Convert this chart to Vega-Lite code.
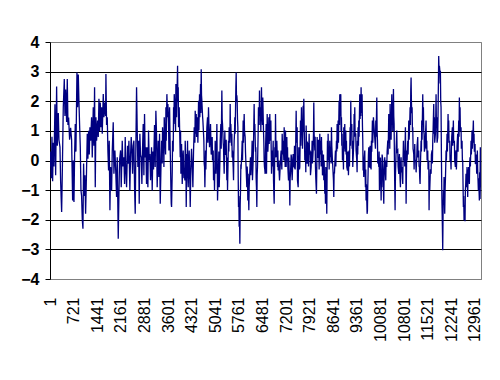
{
  "$schema": "https://vega.github.io/schema/vega-lite/v6.json",
  "width": 431,
  "height": 237,
  "autosize": "none",
  "padding": {"left": 50, "top": 42, "right": 19, "bottom": 101},
  "background": "white",
  "config": {
    "view": {"stroke": "#808080", "strokeWidth": 1},
    "font": "Liberation Sans"
  },
  "data": {"values": [
{"i":1,"v":-0.2},{"i":20,"v":0.3},{"i":40,"v":-0.6},{"i":61,"v":0.8},{"i":81,"v":-0.7},{"i":102,"v":0.6},{"i":122,"v":-0.2},{"i":152,"v":1.9},{"i":173,"v":-0.5},{"i":203,"v":2.5},{"i":224,"v":0.5},{"i":254,"v":1.6},{"i":274,"v":0.7},{"i":305,"v":0.45},{"i":325,"v":-0.7},{"i":356,"v":-1.74},{"i":376,"v":-0.45},{"i":406,"v":1.8},{"i":437,"v":2.75},{"i":457,"v":1.5},{"i":478,"v":2.4},{"i":508,"v":1.3},{"i":528,"v":2.75},{"i":549,"v":1.2},{"i":569,"v":1.45},{"i":599,"v":0.7},{"i":630,"v":1.1},{"i":660,"v":0.7},{"i":691,"v":-1.35},{"i":711,"v":0.0},{"i":732,"v":-1.4},{"i":752,"v":0.2},{"i":772,"v":1.23},{"i":792,"v":0.3},{"i":823,"v":2.97},{"i":843,"v":1.8},{"i":864,"v":2.9},{"i":884,"v":2.0},{"i":904,"v":1.2},{"i":925,"v":0.45},{"i":945,"v":-1.0},{"i":965,"v":-1.2},{"i":986,"v":-2.0},{"i":1006,"v":-2.3},{"i":1026,"v":-0.1},{"i":1046,"v":-1.2},{"i":1067,"v":-0.5},{"i":1087,"v":-1.8},{"i":1107,"v":-0.8},{"i":1138,"v":0.9},{"i":1158,"v":0.06},{"i":1179,"v":1.0},{"i":1199,"v":0.2},{"i":1219,"v":1.12},{"i":1240,"v":0.67},{"i":1270,"v":1.46},{"i":1290,"v":0.1},{"i":1321,"v":1.8},{"i":1341,"v":0.5},{"i":1361,"v":2.47},{"i":1382,"v":-0.9},{"i":1402,"v":1.46},{"i":1422,"v":0.67},{"i":1453,"v":1.35},{"i":1473,"v":0.79},{"i":1494,"v":2.08},{"i":1514,"v":1.0},{"i":1534,"v":1.96},{"i":1554,"v":1.12},{"i":1575,"v":1.8},{"i":1595,"v":0.9},{"i":1626,"v":2.24},{"i":1646,"v":1.46},{"i":1676,"v":1.96},{"i":1697,"v":1.5},{"i":1707,"v":2.92},{"i":1727,"v":1.2},{"i":1748,"v":1.46},{"i":1768,"v":0.3},{"i":1788,"v":-0.34},{"i":1808,"v":0.67},{"i":1829,"v":-1.68},{"i":1849,"v":-0.22},{"i":1880,"v":-1.01},{"i":1900,"v":0.3},{"i":1930,"v":1.29},{"i":1951,"v":-0.45},{"i":1981,"v":0.34},{"i":2002,"v":-0.22},{"i":2032,"v":-1.23},{"i":2052,"v":0.11},{"i":2083,"v":-2.64},{"i":2103,"v":-1.2},{"i":2123,"v":0.0},{"i":2154,"v":0.34},{"i":2174,"v":-0.9},{"i":2205,"v":0.67},{"i":2225,"v":-0.2},{"i":2255,"v":0.11},{"i":2276,"v":-0.79},{"i":2296,"v":0.79},{"i":2316,"v":-0.3},{"i":2337,"v":-0.9},{"i":2367,"v":0.5},{"i":2388,"v":-0.11},{"i":2408,"v":0.67},{"i":2438,"v":-1.01},{"i":2459,"v":0.2},{"i":2479,"v":0.79},{"i":2499,"v":0.34},{"i":2520,"v":-0.45},{"i":2540,"v":0.5},{"i":2560,"v":0.67},{"i":2581,"v":-0.9},{"i":2601,"v":-1.8},{"i":2621,"v":0.5},{"i":2642,"v":2.47},{"i":2662,"v":1.0},{"i":2682,"v":-0.22},{"i":2703,"v":0.67},{"i":2723,"v":-1.46},{"i":2743,"v":0.9},{"i":2763,"v":0.2},{"i":2784,"v":0.1},{"i":2804,"v":-0.79},{"i":2824,"v":0.4},{"i":2845,"v":1.23},{"i":2865,"v":-0.5},{"i":2885,"v":1.57},{"i":2906,"v":0.1},{"i":2926,"v":0.45},{"i":2946,"v":-0.79},{"i":2967,"v":0.45},{"i":2987,"v":-0.9},{"i":3007,"v":1.01},{"i":3028,"v":0.0},{"i":3048,"v":0.22},{"i":3068,"v":-0.67},{"i":3099,"v":0.45},{"i":3119,"v":-1.01},{"i":3139,"v":0.3},{"i":3160,"v":-0.3},{"i":3190,"v":1.2},{"i":3210,"v":-0.22},{"i":3231,"v":1.68},{"i":3251,"v":0.9},{"i":3271,"v":-0.9},{"i":3302,"v":0.67},{"i":3322,"v":-0.56},{"i":3343,"v":0.9},
{"i":3364,"v":-1.46},{"i":3385,"v":-0.3},{"i":3405,"v":0.67},{"i":3425,"v":-0.1},{"i":3435,"v":1.12},{"i":3466,"v":0.45},{"i":3476,"v":-0.22},{"i":3486,"v":1.46},{"i":3507,"v":0.79},{"i":3527,"v":0.2},{"i":3537,"v":1.8},{"i":3547,"v":0.67},{"i":3567,"v":2.24},{"i":3588,"v":1.46},{"i":3598,"v":1.91},{"i":3618,"v":1.23},{"i":3628,"v":0.34},{"i":3649,"v":1.8},{"i":3669,"v":0.34},{"i":3679,"v":-0.22},{"i":3689,"v":-0.9},{"i":3700,"v":-1.46},{"i":3710,"v":-1.57},{"i":3730,"v":-0.4},{"i":3740,"v":0.67},{"i":3760,"v":0.3},{"i":3771,"v":1.8},{"i":3781,"v":1.23},{"i":3791,"v":2.24},{"i":3811,"v":1.8},{"i":3832,"v":1.0},{"i":3842,"v":2.58},{"i":3862,"v":1.46},{"i":3872,"v":2.02},{"i":3893,"v":3.2},{"i":3903,"v":2.0},{"i":3913,"v":2.47},{"i":3923,"v":1.12},{"i":3943,"v":1.8},{"i":3954,"v":1.12},{"i":3974,"v":0.11},{"i":3984,"v":1.01},{"i":3994,"v":-0.45},{"i":4015,"v":0.56},{"i":4035,"v":-0.79},{"i":4055,"v":0.1},{"i":4065,"v":0.34},{"i":4086,"v":-0.6},{"i":4096,"v":-0.34},{"i":4116,"v":-0.67},{"i":4126,"v":0.67},{"i":4147,"v":-0.2},{"i":4157,"v":-1.57},{"i":4177,"v":0.22},{"i":4187,"v":-0.3},{"i":4197,"v":0.67},{"i":4208,"v":-0.56},{"i":4218,"v":-0.9},{"i":4238,"v":0.1},{"i":4248,"v":0.34},{"i":4269,"v":-0.9},{"i":4279,"v":-1.57},{"i":4299,"v":-0.22},{"i":4319,"v":0.4},{"i":4329,"v":0.11},{"i":4350,"v":-0.5},{"i":4360,"v":-0.9},{"i":4380,"v":0.3},{"i":4401,"v":1.12},{"i":4421,"v":0.6},{"i":4431,"v":1.68},{"i":4451,"v":0.9},{"i":4462,"v":1.57},{"i":4472,"v":0.79},{"i":4482,"v":1.23},{"i":4502,"v":1.46},{"i":4512,"v":0.6},{"i":4533,"v":2.02},{"i":4543,"v":1.01},{"i":4563,"v":2.24},{"i":4573,"v":1.46},{"i":4594,"v":2.58},{"i":4604,"v":1.6},{"i":4614,"v":3.08},{"i":4624,"v":2.2},{"i":4634,"v":2.02},{"i":4655,"v":1.5},{"i":4665,"v":1.35},{"i":4685,"v":0.9},{"i":4695,"v":0.67},{"i":4705,"v":-0.1},{"i":4716,"v":-0.22},{"i":4726,"v":-0.9},{"i":4746,"v":0.34},{"i":4756,"v":-0.3},{"i":4776,"v":0.67},{"i":4787,"v":1.12},{"i":4807,"v":1.46},{"i":4817,"v":0.6},{"i":4837,"v":1.8},{"i":4858,"v":0.8},{"i":4868,"v":0.45},{"i":4888,"v":0.9},{"i":4898,"v":1.23},{"i":4919,"v":0.2},{"i":4929,"v":0.34},{"i":4949,"v":0.79},{"i":4959,"v":0.0},{"i":4980,"v":0.34},{"i":4990,"v":-0.67},{"i":5010,"v":-0.34},{"i":5020,"v":-1.01},{"i":5041,"v":0.67},{"i":5051,"v":0.0},{"i":5061,"v":-0.45},{"i":5081,"v":0.4},{"i":5092,"v":1.23},{"i":5102,"v":0.1},{"i":5112,"v":-1.35},{"i":5132,"v":-0.5},{"i":5142,"v":-0.22},{"i":5152,"v":0.3},{"i":5163,"v":-0.9},{"i":5183,"v":-0.1},{"i":5193,"v":0.67},{"i":5213,"v":1.23},{"i":5224,"v":0.4},{"i":5244,"v":2.36},{"i":5254,"v":1.4},{"i":5264,"v":1.23},{"i":5285,"v":0.6},{"i":5295,"v":0.45},{"i":5305,"v":-0.1},{"i":5315,"v":-0.45},{"i":5335,"v":1.01},{"i":5346,"v":0.2},{"i":5366,"v":0.22},{"i":5376,"v":0.7},{"i":5396,"v":-0.67},{"i":5407,"v":0.1},{"i":5417,"v":-1.01},{"i":5437,"v":0.2},{"i":5447,"v":0.67},{"i":5457,"v":0.3},{"i":5467,"v":1.12},{"i":5488,"v":0.6},{"i":5498,"v":1.91},{"i":5508,"v":0.9},{"i":5518,"v":1.23},{"i":5539,"v":0.5},{"i":5549,"v":0.9},{"i":5559,"v":0.1},{"i":5569,"v":0.34},{"i":5589,"v":-0.22},{"i":5600,"v":-0.67},{"i":5610,"v":0.2},{"i":5620,"v":0.67},{"i":5630,"v":0.9},{"i":5640,"v":1.46},{"i":5650,"v":0.9},{"i":5671,"v":2.47},{"i":5681,"v":2.97},{"i":5691,"v":2.0},{"i":5701,"v":2.2},{"i":5711,"v":2.02},{"i":5721,"v":1.4},{"i":5732,"v":1.12},{"i":5742,"v":-0.5},{"i":5752,"v":-1.57},{"i":5762,"v":-1.2},{"i":5772,"v":-2.24},{"i":5782,"v":-1.8},{"i":5793,"v":-2.81},{"i":5803,"v":-1.5},{"i":5813,"v":-1.01},{"i":5823,"v":-0.2},{"i":5833,"v":-0.22},{"i":5854,"v":0.3},{"i":5864,"v":0.67},{"i":5874,"v":0.0},{"i":5894,"v":1.35},{"i":5904,"v":0.6},{"i":5925,"v":1.57},{"i":5935,"v":1.0},{"i":5955,"v":0.79},{"i":5965,"v":0.3},{"i":5975,"v":0.0},{"i":5986,"v":-0.3},{"i":6006,"v":-0.9},{"i":6016,"v":-0.2},{"i":6026,"v":-0.45},{"i":6036,"v":-1.35},{"i":6046,"v":-0.45},{"i":6057,"v":-1.2},{"i":6067,"v":-1.68},{"i":6077,"v":-0.9},{"i":6087,"v":-0.67},{"i":6107,"v":-0.1},{"i":6117,"v":0.11},{"i":6128,"v":-0.5},{"i":6138,"v":-0.22},{"i":6158,"v":0.2},{"i":6168,"v":0.67},{"i":6178,"v":-0.67},{"i":6199,"v":0.0},{"i":6209,"v":0.5},{"i":6229,"v":1.91},{"i":6239,"v":1.0},{"i":6250,"v":1.23},{"i":6270,"v":0.3},{"i":6280,"v":0.45},{"i":6290,"v":-0.6},{"i":6300,"v":-0.9},{"i":6311,"v":-1.57},{"i":6321,"v":-0.5},{"i":6331,"v":-0.22},{"i":6351,"v":0.9},{"i":6361,"v":1.8},{"i":6382,"v":1.2},{"i":6392,"v":2.36},{"i":6402,"v":1.5},{"i":6422,"v":1.8},{"i":6433,"v":1.0},{"i":6453,"v":2.47},{"i":6463,"v":1.6},{"i":6473,"v":1.46},{"i":6483,"v":1.2},{"i":6493,"v":2.13},{"i":6514,"v":1.0},{"i":6524,"v":0.67},{"i":6534,"v":0.0},{"i":6544,"v":-0.22},{"i":6554,"v":-0.3},{"i":6565,"v":-0.45},{"i":6575,"v":0.34},
{"i":6596,"v":1.23},{"i":6606,"v":-0.45},{"i":6627,"v":1.57},{"i":6647,"v":0.3},{"i":6657,"v":0.56},{"i":6678,"v":1.46},{"i":6688,"v":0.56},{"i":6708,"v":1.57},{"i":6718,"v":0.67},{"i":6739,"v":1.35},{"i":6749,"v":0.34},{"i":6759,"v":-0.45},{"i":6779,"v":0.34},{"i":6789,"v":-0.2},{"i":6810,"v":0.67},{"i":6820,"v":-0.67},{"i":6830,"v":-1.1},{"i":6840,"v":-1.46},{"i":6850,"v":-0.5},{"i":6860,"v":0.45},{"i":6871,"v":0.1},{"i":6881,"v":1.57},{"i":6891,"v":0.6},{"i":6911,"v":0.11},{"i":6921,"v":0.67},{"i":6942,"v":-0.22},{"i":6952,"v":0.34},{"i":6962,"v":-0.34},{"i":6982,"v":0.0},{"i":6993,"v":-0.45},{"i":7003,"v":-0.67},{"i":7023,"v":-0.22},{"i":7043,"v":0.2},{"i":7053,"v":0.34},{"i":7074,"v":-0.3},{"i":7084,"v":0.9},{"i":7104,"v":0.2},{"i":7114,"v":0.67},{"i":7135,"v":0.0},{"i":7145,"v":1.12},{"i":7155,"v":0.4},{"i":7165,"v":0.45},{"i":7175,"v":-0.22},{"i":7186,"v":1.01},{"i":7196,"v":0.1},{"i":7206,"v":-0.22},{"i":7216,"v":0.3},{"i":7226,"v":0.79},{"i":7236,"v":0.0},{"i":7247,"v":0.45},{"i":7257,"v":-0.22},{"i":7277,"v":-0.67},{"i":7287,"v":0.1},{"i":7308,"v":-0.79},{"i":7318,"v":-1.52},{"i":7328,"v":-0.6},{"i":7338,"v":-0.45},{"i":7358,"v":0.2},{"i":7368,"v":0.11},{"i":7379,"v":-0.3},{"i":7389,"v":-0.67},{"i":7409,"v":0.0},{"i":7419,"v":0.22},{"i":7440,"v":-0.2},{"i":7450,"v":-0.22},{"i":7460,"v":0.5},{"i":7470,"v":0.34},{"i":7480,"v":-0.3},{"i":7490,"v":0.0},{"i":7501,"v":0.9},{"i":7511,"v":1.68},{"i":7521,"v":0.6},{"i":7541,"v":1.12},{"i":7551,"v":-0.67},{"i":7572,"v":-0.9},{"i":7582,"v":-0.2},{"i":7592,"v":0.45},{"i":7612,"v":-0.3},{"i":7622,"v":-0.22},{"i":7633,"v":0.6},{"i":7643,"v":1.35},{"i":7653,"v":0.5},{"i":7673,"v":1.8},{"i":7683,"v":0.9},{"i":7694,"v":1.23},{"i":7704,"v":0.4},{"i":7724,"v":1.85},{"i":7734,"v":1.0},{"i":7744,"v":2.08},{"i":7755,"v":1.2},{"i":7765,"v":0.67},{"i":7775,"v":0.0},{"i":7795,"v":0.22},{"i":7805,"v":-0.4},{"i":7816,"v":1.18},{"i":7826,"v":0.4},{"i":7846,"v":-0.11},{"i":7856,"v":0.6},{"i":7877,"v":0.56},{"i":7887,"v":-0.2},{"i":7907,"v":0.9},{"i":7917,"v":0.2},{"i":7937,"v":0.34},{"i":7948,"v":-0.5},{"i":7968,"v":-0.22},{"i":7978,"v":0.3},{"i":7988,"v":0.22},{"i":7998,"v":0.67},{"i":8009,"v":-0.1},{"i":8029,"v":0.34},{"i":8039,"v":0.9},{"i":8049,"v":1.96},{"i":8059,"v":0.9},{"i":8080,"v":0.34},{"i":8090,"v":0.8},{"i":8100,"v":-0.22},{"i":8110,"v":-0.6},{"i":8130,"v":-1.12},{"i":8141,"v":-0.2},{"i":8151,"v":0.79},{"i":8161,"v":0.1},{"i":8181,"v":0.11},{"i":8191,"v":0.7},{"i":8202,"v":0.34},{"i":8212,"v":-0.3},{"i":8232,"v":0.9},{"i":8242,"v":0.2},{"i":8263,"v":0.67},{"i":8273,"v":-0.2},{"i":8283,"v":0.79},{"i":8293,"v":0.1},{"i":8303,"v":0.34},{"i":8313,"v":-0.5},{"i":8334,"v":-0.45},{"i":8344,"v":0.2},{"i":8354,"v":-0.67},{"i":8364,"v":0.0},{"i":8385,"v":-1.12},{"i":8395,"v":-0.6},{"i":8405,"v":-1.46},{"i":8415,"v":-0.22},{"i":8425,"v":-0.6},{"i":8435,"v":-1.0},{"i":8445,"v":-1.8},{"i":8456,"v":-0.3},{"i":8466,"v":0.67},{"i":8476,"v":0.0},{"i":8486,"v":0.9},{"i":8496,"v":0.2},{"i":8506,"v":0.45},{"i":8517,"v":-0.3},{"i":8537,"v":0.67},{"i":8547,"v":0.11},{"i":8567,"v":0.45},{"i":8577,"v":-0.1},{"i":8588,"v":1.12},{"i":8598,"v":0.5},{"i":8618,"v":0.0},{"i":8628,"v":-0.2},{"i":8649,"v":-0.67},{"i":8659,"v":-1.23},{"i":8669,"v":-0.4},{"i":8679,"v":-0.45},{"i":8699,"v":0.1},{"i":8710,"v":0.34},{"i":8720,"v":-0.2},{"i":8740,"v":0.67},{"i":8750,"v":0.3},{"i":8760,"v":1.23},{"i":8771,"v":0.4},{"i":8791,"v":1.35},{"i":8801,"v":0.6},{"i":8821,"v":2.02},{"i":8832,"v":1.2},{"i":8842,"v":2.24},{"i":8852,"v":1.5},{"i":8872,"v":2.24},{"i":8882,"v":1.0},{"i":8893,"v":1.46},{"i":8903,"v":0.5},{"i":8913,"v":0.9},{"i":8923,"v":0.0},{"i":8943,"v":0.34},{"i":8954,"v":-0.3},{"i":8964,"v":1.12},{"i":8974,"v":0.4},{"i":8994,"v":1.23},{"i":9004,"v":0.3},{"i":9025,"v":1.01},{"i":9035,"v":0.2},{"i":9045,"v":0.67},{"i":9055,"v":-0.22},{"i":9076,"v":-0.34},{"i":9086,"v":0.3},{"i":9096,"v":0.0},{"i":9106,"v":-0.5},{"i":9126,"v":0.34},{"i":9137,"v":-0.2},{"i":9157,"v":1.12},{"i":9167,"v":0.5},{"i":9177,"v":2.02},{"i":9187,"v":1.0},{"i":9208,"v":1.23},{"i":9218,"v":0.4},{"i":9228,"v":0.67},{"i":9238,"v":-0.22},{"i":9259,"v":0.34},{"i":9269,"v":0.7},{"i":9279,"v":1.57},{"i":9289,"v":0.8},{"i":9299,"v":1.8},{"i":9309,"v":0.9},{"i":9329,"v":0.9},{"i":9339,"v":0.34},{"i":9360,"v":0.0},{"i":9370,"v":-0.4},{"i":9380,"v":0.67},{"i":9390,"v":0.2},{"i":9400,"v":1.12},{"i":9411,"v":0.5},{"i":9421,"v":1.35},{"i":9431,"v":0.8},{"i":9451,"v":2.24},{"i":9461,"v":1.4},{"i":9471,"v":2.13},{"i":9482,"v":1.5},{"i":9492,"v":2.47},{"i":9502,"v":1.6},{"i":9522,"v":2.24},{"i":9533,"v":1.2},{"i":9543,"v":0.67},{"i":9553,"v":-0.34},{"i":9563,"v":0.1},{"i":9573,"v":-0.56},{"i":9583,"v":0.0},{"i":9604,"v":0.34},{"i":9614,"v":-0.4},{"i":9624,"v":-0.9},{"i":9634,"v":-0.3},{"i":9644,"v":-1.35},{"i":9654,"v":-0.8},{"i":9675,"v":-1.8},{"i":9685,"v":-1.7},{"i":9695,"v":-0.9},{"i":9705,"v":-0.45},{"i":9716,"v":0.2},{"i":9726,"v":0.45},{"i":9736,"v":-0.2},{"i":9756,"v":-0.22},{"i":9766,"v":0.5},{"i":9787,"v":0.22},{"i":9797,"v":-0.3},{"i":9807,"v":0.67},{"i":9817,"v":0.3},{"i":9837,"v":1.35},{"i":9848,"v":0.6},{"i":9868,"v":1.46},
{"i":9930,"v":0.4},{"i":9940,"v":1.35},{"i":9950,"v":0.8},{"i":9971,"v":2.13},{"i":9981,"v":1.0},{"i":9991,"v":0.67},{"i":10001,"v":-0.1},{"i":10011,"v":0.11},{"i":10021,"v":0.0},{"i":10032,"v":-0.22},{"i":10042,"v":0.3},{"i":10052,"v":-1.01},{"i":10062,"v":-0.3},{"i":10072,"v":-0.67},{"i":10082,"v":0.1},{"i":10103,"v":-1.35},{"i":10113,"v":-0.5},{"i":10123,"v":-0.9},{"i":10133,"v":0.2},{"i":10153,"v":0.0},{"i":10164,"v":-0.6},{"i":10184,"v":-1.46},{"i":10194,"v":-0.4},{"i":10214,"v":0.11},{"i":10225,"v":-0.3},{"i":10245,"v":-0.67},{"i":10255,"v":0.0},{"i":10275,"v":-0.22},{"i":10286,"v":0.3},{"i":10306,"v":0.67},{"i":10316,"v":0.2},{"i":10336,"v":1.57},{"i":10346,"v":0.6},{"i":10357,"v":1.23},{"i":10367,"v":0.4},{"i":10377,"v":1.91},{"i":10387,"v":0.9},{"i":10397,"v":1.35},{"i":10407,"v":0.7},{"i":10428,"v":2.24},{"i":10438,"v":1.2},{"i":10448,"v":2.02},{"i":10458,"v":1.0},{"i":10479,"v":2.41},{"i":10489,"v":1.5},{"i":10499,"v":1.23},{"i":10509,"v":0.0},{"i":10519,"v":-0.9},{"i":10529,"v":-1.68},{"i":10540,"v":-0.5},{"i":10550,"v":-0.11},{"i":10560,"v":0.4},{"i":10580,"v":1.01},{"i":10590,"v":0.3},{"i":10611,"v":0.34},{"i":10621,"v":-0.2},{"i":10641,"v":-0.45},{"i":10651,"v":0.0},{"i":10661,"v":0.22},{"i":10672,"v":-0.3},{"i":10682,"v":-0.67},{"i":10692,"v":-0.9},{"i":10702,"v":-0.2},{"i":10712,"v":0.11},{"i":10722,"v":-0.4},{"i":10743,"v":-0.22},{"i":10753,"v":-0.6},{"i":10763,"v":-0.79},{"i":10773,"v":0.1},{"i":10783,"v":0.67},{"i":10794,"v":0.0},{"i":10814,"v":0.34},{"i":10824,"v":-0.2},{"i":10834,"v":0.5},{"i":10844,"v":1.12},{"i":10855,"v":0.0},{"i":10865,"v":-1.46},{"i":10875,"v":-0.5},{"i":10885,"v":0.34},{"i":10895,"v":0.0},{"i":10916,"v":0.67},{"i":10926,"v":0.2},{"i":10946,"v":1.35},{"i":10956,"v":0.7},{"i":10966,"v":0.9},{"i":10976,"v":1.3},{"i":10987,"v":1.8},{"i":10997,"v":1.2},{"i":11007,"v":2.36},{"i":11017,"v":2.8},{"i":11027,"v":2.0},{"i":11037,"v":1.6},{"i":11048,"v":1.8},{"i":11058,"v":1.0},{"i":11068,"v":1.12},{"i":11078,"v":0.4},{"i":11098,"v":0.22},{"i":11109,"v":-0.3},{"i":11129,"v":0.56},{"i":11139,"v":0.0},{"i":11159,"v":0.0},{"i":11170,"v":-0.4},{"i":11190,"v":0.11},{"i":11200,"v":0.5},{"i":11220,"v":0.79},{"i":11230,"v":0.1},{"i":11251,"v":0.34},{"i":11261,"v":-0.2},{"i":11271,"v":-0.22},{"i":11281,"v":-0.6},{"i":11291,"v":-0.79},{"i":11301,"v":-0.2},{"i":11322,"v":0.67},{"i":11332,"v":0.3},{"i":11342,"v":1.35},{"i":11352,"v":0.7},{"i":11373,"v":2.24},{"i":11383,"v":1.2},{"i":11393,"v":1.8},{"i":11403,"v":1.0},{"i":11413,"v":0.9},{"i":11423,"v":0.3},{"i":11444,"v":0.45},{"i":11454,"v":0.8},{"i":11474,"v":1.35},{"i":11484,"v":0.4},{"i":11495,"v":0.67},{"i":11505,"v":0.0},{"i":11525,"v":0.34},{"i":11535,"v":-0.3},{"i":11556,"v":0.0},{"i":11566,"v":-1.68},{"i":11576,"v":-0.56},{"i":11586,"v":-1.0},{"i":11606,"v":-0.3},{"i":11627,"v":-0.45},{"i":11637,"v":0.2},{"i":11657,"v":0.34},{"i":11667,"v":-0.1},{"i":11678,"v":0.67},{"i":11688,"v":1.0},{"i":11708,"v":1.91},{"i":11718,"v":0.9},{"i":11728,"v":1.46},{"i":11738,"v":0.6},{"i":11759,"v":0.9},{"i":11769,"v":1.4},{"i":11779,"v":2.24},{"i":11789,"v":1.3},{"i":11799,"v":1.46},{"i":11810,"v":0.6},{"i":11830,"v":0.79},{"i":11840,"v":1.6},{"i":11850,"v":2.58},{"i":11860,"v":3.53},{"i":11871,"v":3.0},{"i":11881,"v":3.2},{"i":11891,"v":3.08},{"i":11901,"v":2.6},{"i":11911,"v":3.03},{"i":11921,"v":2.0},{"i":11931,"v":1.8},{"i":11942,"v":0.2},{"i":11952,"v":-0.9},{"i":11962,"v":-1.6},{"i":11972,"v":-2.24},{"i":11982,"v":-3.03},{"i":11993,"v":-1.8},{"i":12003,"v":-1.01},{"i":12013,"v":-1.5},{"i":12023,"v":-0.56},{"i":12033,"v":-1.2},{"i":12043,"v":-1.8},{"i":12054,"v":-1.0},{"i":12064,"v":-0.67},{"i":12074,"v":-0.2},{"i":12084,"v":0.34},{"i":12094,"v":0.0},{"i":12114,"v":0.9},{"i":12125,"v":0.3},{"i":12145,"v":1.57},{"i":12155,"v":0.8},{"i":12165,"v":1.35},{"i":12175,"v":0.6},{"i":12196,"v":0.67},{"i":12206,"v":0.0},{"i":12226,"v":0.0},{"i":12236,"v":-0.3},{"i":12246,"v":0.34},{"i":12257,"v":0.8},{"i":12277,"v":1.12},{"i":12287,"v":0.5},{"i":12307,"v":1.35},{"i":12317,"v":0.6},{"i":12338,"v":0.67},{"i":12348,"v":0.0},{"i":12368,"v":-0.22},{"i":12378,"v":0.2},{"i":12389,"v":0.34},{"i":12399,"v":-0.3},{"i":12409,"v":0.0},{"i":12419,"v":0.5},{"i":12439,"v":0.9},{"i":12450,"v":0.3},{"i":12470,"v":1.35},{"i":12480,"v":0.8},{"i":12490,"v":2.13},{"i":12500,"v":1.2},{"i":12511,"v":1.8},{"i":12521,"v":1.0},{"i":12541,"v":1.12},{"i":12551,"v":0.4},{"i":12572,"v":0.67},{"i":12582,"v":0.0},{"i":12592,"v":0.0},{"i":12602,"v":-0.8},{"i":12612,"v":-1.57},{"i":12622,"v":-1.2},{"i":12633,"v":-2.02},{"i":12643,"v":-1.5},{"i":12653,"v":-1.8},{"i":12663,"v":-2.05},{"i":12673,"v":-1.01},{"i":12683,"v":-0.8},{"i":12693,"v":-0.45},{"i":12704,"v":-0.9},{"i":12724,"v":-0.22},{"i":12734,"v":-0.6},{"i":12744,"v":-1.23},{"i":12754,"v":-0.5},{"i":12775,"v":-0.22},{"i":12785,"v":-0.6},{"i":12795,"v":-0.79},{"i":12805,"v":-0.1},{"i":12815,"v":0.11},{"i":12826,"v":-0.2},{"i":12846,"v":0.67},{"i":12856,"v":0.2},{"i":12876,"v":1.01},{"i":12886,"v":0.4},{"i":12897,"v":0.67},{"i":12907,"v":1.0},{"i":12917,"v":1.35},{"i":12927,"v":0.6},{"i":12937,"v":0.9},{"i":12947,"v":0.3},{"i":12968,"v":0.56},{"i":12978,"v":-0.1},{"i":12998,"v":-0.11},{"i":13008,"v":0.2},{"i":13018,"v":-0.45},{"i":13029,"v":0.0},{"i":13039,"v":0.34},{"i":13049,"v":-0.3},{"i":13069,"v":-1.0},{"i":13079,"v":-0.6},{"i":13100,"v":-1.35},{"i":13110,"v":-0.4},{"i":13120,"v":-0.9},{"i":13130,"v":0.45},{"i":13140,"v":-0.2},{"i":13150,"v":-1.3}
  ]},
  "mark": {"type": "line", "color": "#000080", "strokeWidth": 1.3, "clip": true},
  "encoding": {
    "x": {
      "field": "i", "type": "quantitative",
      "scale": {"domain": [1, 13150], "nice": false, "zero": false},
      "axis": {
        "title": null,
        "values": [1,721,1441,2161,2881,3601,4321,5041,5761,6481,7201,7921,8641,9361,10081,10801,11521,12241,12961],
        "format": "d",
        "labelAngle": 270,
        "labelAlign": "right",
        "labelBaseline": "middle",
        "labelPadding": 18,
        "ticks": false,
        "grid": false,
        "domainColor": "#808080",
        "labelFont": "Liberation Sans",
        "labelFontSize": 16,
        "labelColor": "black",
        "labelOverlap": false,
        "labelFlush": false
      }
    },
    "y": {
      "field": "v", "type": "quantitative",
      "scale": {"domain": [-4, 4], "nice": false},
      "axis": {
        "title": null,
        "values": [-4,-3,-2,-1,0,1,2,3,4],
        "grid": true,
        "gridColor": {"condition": {"test": "abs(datum.value) == 4", "value": "#808080"}, "value": "black"},
        "gridOpacity": 1,
        "gridWidth": 1,
        "domainColor": "black",
        "tickColor": "black",
        "tickSize": 5,
        "labelPadding": 6,
        "labelFont": "Liberation Sans",
        "labelFontSize": 16,
        "labelFontWeight": "bold",
        "labelColor": "black"
      }
    }
  }
}
